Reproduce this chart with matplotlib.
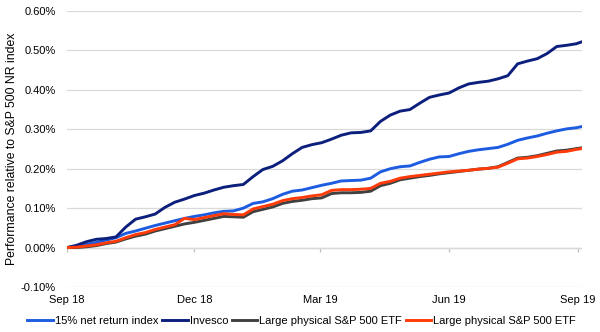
import matplotlib
matplotlib.use("Agg")
import matplotlib.pyplot as plt
import numpy as np
import pandas as pd

# weekly sample dates (plus final point)
dates = list(pd.date_range("2018-09-01", periods=53, freq="7D")) + [pd.Timestamp("2019-09-04")]

net_return_15 = [0.000, 0.003, 0.008, 0.013, 0.019, 0.025, 0.036, 0.042, 0.049, 0.056,
                 0.062, 0.068, 0.074, 0.079, 0.083, 0.088, 0.092, 0.093, 0.100, 0.112,
                 0.116, 0.124, 0.135, 0.143, 0.146, 0.152, 0.158, 0.163, 0.169, 0.170,
                 0.171, 0.176, 0.192, 0.200, 0.205, 0.207, 0.216, 0.224, 0.230, 0.231,
                 0.238, 0.244, 0.248, 0.251, 0.254, 0.262, 0.272, 0.278, 0.283, 0.290,
                 0.296, 0.301, 0.304, 0.307]

invesco = [0.000, 0.006, 0.015, 0.021, 0.023, 0.027, 0.052, 0.072, 0.078, 0.085,
           0.102, 0.115, 0.123, 0.132, 0.138, 0.146, 0.153, 0.157, 0.160, 0.180,
           0.198, 0.206, 0.220, 0.238, 0.254, 0.261, 0.266, 0.275, 0.285, 0.291,
           0.292, 0.296, 0.320, 0.336, 0.346, 0.350, 0.366, 0.381, 0.387, 0.392,
           0.405, 0.415, 0.419, 0.422, 0.428, 0.436, 0.466, 0.473, 0.479, 0.492,
           0.510, 0.513, 0.517, 0.522]

etf_gray = [0.000, 0.000, 0.002, 0.005, 0.010, 0.014, 0.022, 0.029, 0.034, 0.042,
            0.048, 0.054, 0.060, 0.064, 0.069, 0.074, 0.079, 0.078, 0.077, 0.091,
            0.097, 0.103, 0.112, 0.117, 0.120, 0.124, 0.126, 0.137, 0.139, 0.139,
            0.140, 0.143, 0.157, 0.163, 0.172, 0.176, 0.180, 0.183, 0.187, 0.190,
            0.193, 0.196, 0.199, 0.201, 0.205, 0.216, 0.227, 0.229, 0.233, 0.239,
            0.245, 0.247, 0.251, 0.253]

etf_orange = [0.000, 0.001, 0.004, 0.007, 0.012, 0.016, 0.025, 0.033, 0.038, 0.046,
              0.052, 0.058, 0.074, 0.071, 0.076, 0.081, 0.086, 0.084, 0.083, 0.098,
              0.104, 0.110, 0.119, 0.124, 0.127, 0.131, 0.134, 0.145, 0.147, 0.147,
              0.148, 0.150, 0.163, 0.168, 0.176, 0.180, 0.183, 0.186, 0.189, 0.192,
              0.194, 0.196, 0.199, 0.201, 0.204, 0.214, 0.225, 0.227, 0.231, 0.236,
              0.242, 0.244, 0.249, 0.251]

series_labels = ["15% net return index", "Invesco",
                 "Large physical S&P 500 ETF", "Large physical S&P 500 ETF"]
tick_dates = ["2018-09-01", "2018-12-01", "2019-03-01", "2019-06-01", "2019-09-01"]
tick_labels = ["Sep 18", "Dec 18", "Mar 19", "Jun 19", "Sep 19"]
y_ticks = [-0.10, 0.00, 0.10, 0.20, 0.30, 0.40, 0.50, 0.60]

plt.rcParams['font.family'] = ['Liberation Sans', 'DejaVu Sans']

fig = plt.figure(figsize=(6.0, 3.32), dpi=100)
ax = fig.add_axes([67/600, 1-287/332, (582-67)/600, (287-11)/332])

colors = ["#1d5ce0", "#0c1f7c", "#404040", "#ff3b0a"]
data = [net_return_15, invesco, etf_gray, etf_orange]
for vals, lab, c in zip(data, series_labels, colors):
    ax.plot(dates, vals, color=c, lw=2.1, label=lab, solid_joinstyle='round')

ax.set_ylim(-0.10, 0.60)
ax.set_xlim(pd.Timestamp("2018-09-01"), pd.Timestamp("2019-09-04"))
ax.set_yticks(y_ticks)
ax.set_yticklabels([f"{v:.2f}%" for v in y_ticks])
ax.grid(axis='y', color='#d9d9d9', lw=0.9)
ax.set_axisbelow(True)
for s in ax.spines.values():
    s.set_visible(False)

tds = [pd.Timestamp(t) for t in tick_dates]
ax.set_xticks(tds)
ax.set_xticklabels(tick_labels)
ax.axhline(0, color='#bfbfbf', lw=0.9, zorder=0.5)
ax.vlines(tds, -0.010, 0.0, color='#bfbfbf', lw=0.9, zorder=0.5)

ax.tick_params(axis='both', length=0, labelsize=8, colors='black')
ax.tick_params(axis='y', pad=8)
ax.tick_params(axis='x', pad=6)
ax.set_ylabel("Performance relative to S&P 500 NR index", fontsize=8.8, labelpad=2)

fig.legend(loc='center', bbox_to_anchor=(0.503, 1-321/332), ncol=4, frameon=False,
           fontsize=8, handlelength=2.3, handletextpad=0.2, columnspacing=0.3,
           borderaxespad=0, borderpad=0)

fig.savefig("out.png", dpi=100)
